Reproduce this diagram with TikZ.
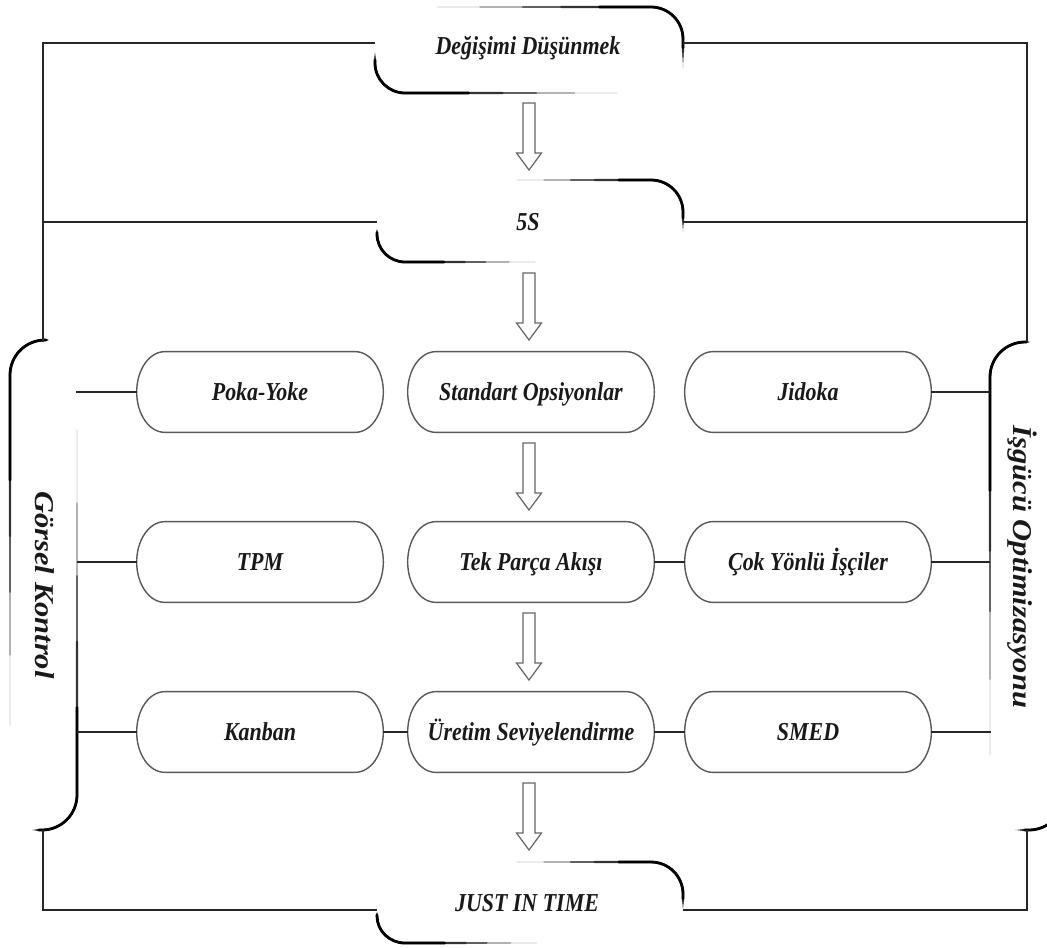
\documentclass[tikz,border=0pt]{standalone}
\usepackage{fontspec}
\setmainfont{Liberation Serif}
\newfontfamily\boxfont[FakeStretch=0.85]{Liberation Serif}
\newfontfamily\sidefont[FakeStretch=1.12]{Liberation Serif}
\usetikzlibrary{calc}
\tikzset{
  frameline/.style={line width=1.1pt, draw=black!85},
  boxline/.style={line width=0.8pt, draw=black!65},
  arrowline/.style={line width=0.7pt, draw=black!60, fill=white},
  lbl/.style={font=\boxfont\fontsize{14.7}{17}\selectfont\bfseries\itshape, text=black!90, inner sep=0pt, text height=10pt, text depth=0.5pt},
  sidelbl/.style={font=\sidefont\fontsize{15.5}{18}\selectfont\bfseries\itshape, text=black!90, rotate=-90, inner sep=0pt, text height=10.5pt, text depth=0.5pt},
  boxnode/.style={lbl, minimum width=4.92cm, minimum height=1.6cm},
}
\newcommand\taper[5]{%
  \foreach \a/\b/\w/\c in {0/1/0.35/22, 0.2/0.8/0.6/42, 0.4/0.62/0.9/62, 0.58/0.46/1.2/80, 0.76/0.3/1.6/100}{%
    \draw[line width=\w pt, draw=black!\c, line cap=round] ($(#1)!\a!(#2)$) -- (#2)
      .. controls ($(#2)!0.5523!(#3)$) and ($(#4)!0.5523!(#3)$) .. (#4) -- ($(#4)!\b!(#5)$);
  }%
}
\newcommand\rbox[1]{%
  \draw[boxline] ($(#1.north west)+(28,0)$) -- ($(#1.north east)+(-28,0)$)
   .. controls +(15.5,0) and +(0,-22.1) .. (#1.east)
   .. controls +(0,22.1) and +(15.5,0) .. ($(#1.south east)+(-28,0)$)
   -- ($(#1.south west)+(28,0)$)
   .. controls +(-15.5,0) and +(0,22.1) .. (#1.west)
   .. controls +(0,-22.1) and +(-15.5,0) .. ($(#1.north west)+(28,0)$) -- cycle;
}
\newcommand\barrow[2]{%
  \draw[arrowline] let \p1=(#1), \p2=(#2) in
   (\x1-0.12cm,\y1) -- (\x1+0.12cm,\y1) -- (\x1+0.12cm,\y2+0.34cm) -- (\x1+0.25cm,\y2+0.34cm)
   -- (\x1,\y2) -- (\x1-0.25cm,\y2+0.34cm) -- (\x1-0.12cm,\y2+0.34cm) -- cycle;
}
\begin{document}
\begin{tikzpicture}[x=0.02cm,y=-0.02cm]
\useasboundingbox (0,0) rectangle (1047,947);
\fill[white] (0,0) rectangle (1047,947);

% top / bottom labels
\node[lbl] (dd) at (528,46) {Değişimi Düşünmek};
\node[lbl] (fs) at (528,222) {5S};
\node[lbl] (jit) at (527,903) {JUST IN TIME};

% side labels
\node[sidelbl] (gk) at (44,585) {Görsel Kontrol};
\node[sidelbl] (io) at (1022,567) {İşgücü Optimizasyonu};

% boxes
\node[boxnode] (pk)  at (260,392) {Poka-Yoke};
\node[boxnode] (so)  at (531,392) {Standart Opsiyonlar};
\node[boxnode] (jd)  at (808,392) {Jidoka};
\node[boxnode] (tpm) at (260,562) {TPM};
\node[boxnode] (tek) at (531,562) {Tek Parça Akışı};
\node[boxnode] (cok) at (808,562) {Çok Yönlü İşçiler};
\node[boxnode] (kb)  at (260,732) {Kanban};
\node[boxnode] (ur)  at (531,732) {Üretim Seviyelendirme};
\node[boxnode] (sm)  at (808,732) {SMED};
\foreach \n in {pk,so,jd,tpm,tek,cok,kb,ur,sm} {\rbox{\n}}

% tapered brackets of the top/bottom labels
\taper{437,7}{651,7}{683,7}{683,39}{683,68}
\taper{375,52}{375,63}{375,93}{405,93}{617,93}
\taper{517,180}{651,180}{683,180}{683,212}{683,232}
\taper{377,229}{377,234}{377,262}{405,262}{535,262}
\taper{517,862}{651,862}{683,862}{683,894}{683,910}
\taper{377,912}{377,916}{377,943}{405,943}{537,943}

% side brackets
\taper{49,340}{45,340}{10,340}{10,375}{10,725}
\taper{77,430}{77,795}{77,830}{42,830}{32,830}
\taper{1030,342}{1025,342}{990,342}{990,377}{990,755}
\taper{1064,600}{1064,795}{1064,830}{1029,830}{1015,830}

% frame coordinates
\coordinate (ddL) at (375,43);  \coordinate (ddR) at (683,43);
\coordinate (fsL) at (377,222); \coordinate (fsR) at (683,222);
\coordinate (jL) at (377,910);  \coordinate (jR) at (683,910);
\coordinate (gkT) at (43,342);  \coordinate (gkB) at (43,830);
\coordinate (ioT) at (1027,342); \coordinate (ioB) at (1027,830);
\coordinate (gk1) at (76,392); \coordinate (gk2) at (77,562); \coordinate (gk3) at (77,732);
\coordinate (io1) at (990,392); \coordinate (io2) at (990,562); \coordinate (io3) at (991,732);

\draw[frameline] (ddL) -- (43,43) -- (gkT);
\draw[frameline] (ddR) -- (1027,43) -- (ioT);
\draw[frameline] (fsL) -- (43,222);
\draw[frameline] (fsR) -- (1027,222);
\draw[frameline] (gkB) -- (43,910) -- (jL);
\draw[frameline] (ioB) -- (1027,910) -- (jR);

% row connectors
\draw[frameline] (gk1) -- (pk.west);
\draw[frameline] (jd.east) -- (io1);
\draw[frameline] (gk2) -- (tpm.west);
\draw[frameline] (tek.east) -- (cok.west);
\draw[frameline] (cok.east) -- (io2);
\draw[frameline] (gk3) -- (kb.west);
\draw[frameline] (kb.east) -- (ur.west);
\draw[frameline] (ur.east) -- (sm.west);
\draw[frameline] (sm.east) -- (io3);

% block arrows
\coordinate (a1s) at (529,103); \coordinate (a1e) at (529,170);
\coordinate (a2s) at (529,273); \coordinate (a2e) at (529,340);
\coordinate (a3s) at (529,443); \coordinate (a3e) at (529,510);
\coordinate (a4s) at (529,613); \coordinate (a4e) at (529,680);
\coordinate (a5s) at (529,783); \coordinate (a5e) at (529,850);
\barrow{a1s}{a1e}
\barrow{a2s}{a2e}
\barrow{a3s}{a3e}
\barrow{a4s}{a4e}
\barrow{a5s}{a5e}
\end{tikzpicture}
\end{document}
